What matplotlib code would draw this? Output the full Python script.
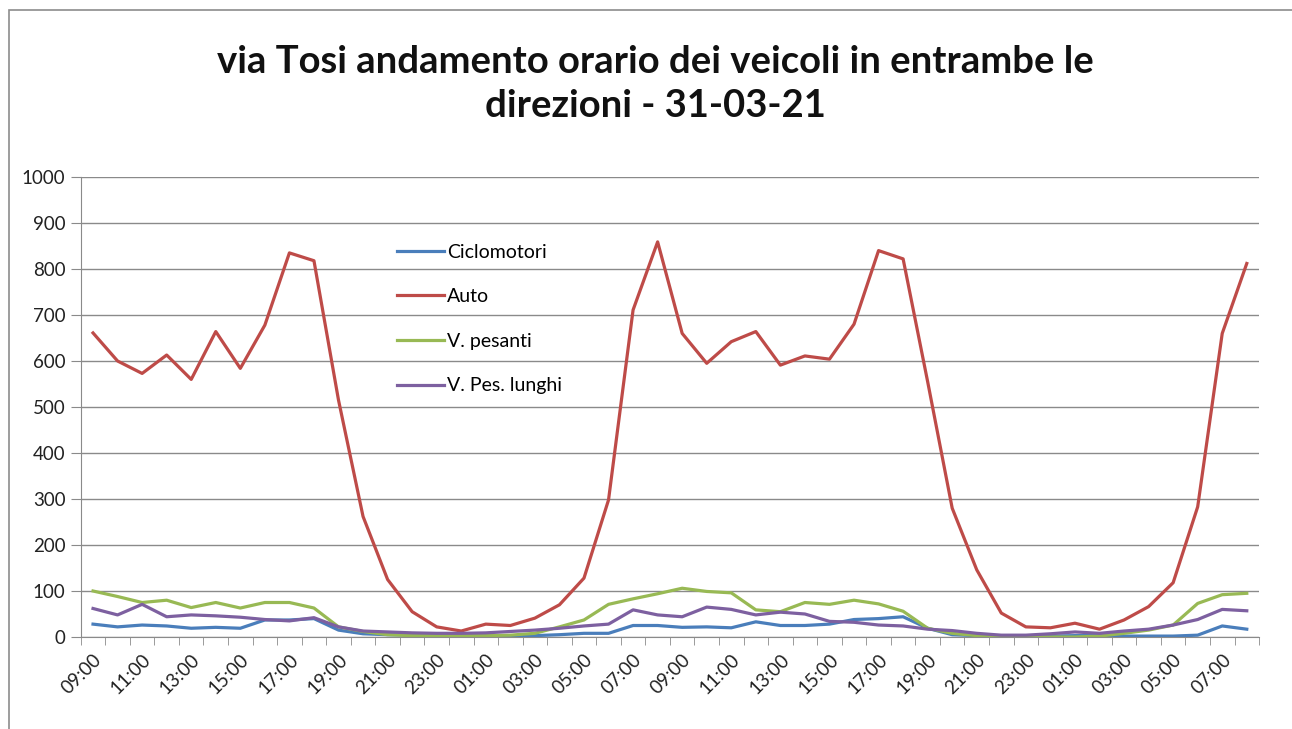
import matplotlib
matplotlib.use("Agg")
import matplotlib.pyplot as plt
from matplotlib.patches import Rectangle

# hourly counts, 09:00 of 31-03 to 08:00 two days later
hours = ["09:00", "10:00", "11:00", "12:00", "13:00", "14:00", "15:00", "16:00",
         "17:00", "18:00", "19:00", "20:00", "21:00", "22:00", "23:00", "00:00",
         "01:00", "02:00", "03:00", "04:00", "05:00", "06:00", "07:00", "08:00",
         "09:00", "10:00", "11:00", "12:00", "13:00", "14:00", "15:00", "16:00",
         "17:00", "18:00", "19:00", "20:00", "21:00", "22:00", "23:00", "00:00",
         "01:00", "02:00", "03:00", "04:00", "05:00", "06:00", "07:00", "08:00"]

ciclomotori = [28, 22, 26, 24, 19, 21, 19, 37, 37, 40, 15, 7, 5, 4, 4, 4,
               3, 3, 3, 5, 8, 8, 25, 25, 21, 22, 20, 33, 25, 25, 28, 38,
               40, 44, 19, 5, 3, 2, 2, 2, 3, 3, 2, 2, 2, 4, 24, 17]
auto = [661, 600, 573, 613, 560, 664, 584, 678, 835, 818, 515, 262, 125, 55, 22, 13,
        28, 25, 41, 70, 128, 298, 711, 859, 660, 595, 642, 664, 591, 611, 604, 680,
        840, 822, 555, 280, 146, 52, 22, 20, 30, 17, 37, 66, 118, 283, 660, 812]
pesanti = [100, 88, 75, 80, 64, 75, 63, 75, 75, 63, 22, 12, 5, 3, 3, 3,
           3, 4, 8, 22, 37, 71, 83, 94, 106, 99, 96, 59, 55, 75, 71, 80,
           72, 56, 19, 8, 3, 2, 1, 0, 0, 2, 8, 15, 26, 73, 92, 95]
pes_lunghi = [62, 48, 71, 44, 48, 46, 43, 38, 35, 42, 22, 13, 11, 9, 8, 8,
              9, 12, 15, 19, 24, 28, 59, 48, 44, 65, 60, 48, 54, 50, 34, 32,
              26, 24, 17, 14, 8, 4, 4, 7, 11, 8, 13, 17, 26, 38, 60, 57]

series = [("Ciclomotori", ciclomotori, "#4A7EBB"),
          ("Auto", auto, "#BE4B48"),
          ("V. pesanti", pesanti, "#98B954"),
          ("V. Pes. lunghi", pes_lunghi, "#7D60A0")]

plt.rcParams['font.family'] = ['Lato', 'DejaVu Sans']

fig = plt.figure(figsize=(12.92, 7.29), dpi=100)
fig.patches.append(Rectangle((9 / 1292, -0.1), 1.2, 1.1 - 10 / 729, transform=fig.transFigure,
                             fill=False, edgecolor="#8c8c8c", linewidth=1.2))

ax = fig.add_axes([0.0625, 0.1262, 0.912, 0.6310])
x = list(range(len(hours)))
for name, vals, col in series:
    ax.plot(x, vals, color=col, linewidth=2.3, label=name)

ax.set_xlim(-0.5, len(hours) - 0.5)
ax.set_ylim(0, 1000)
ax.set_yticks(range(0, 1001, 100))
ax.yaxis.grid(True, color="#8a8a8a", linewidth=1.0)
ax.set_axisbelow(True)

ax.set_xticks(x[::2])
ax.set_xticklabels(hours[::2], rotation=45, ha="right", rotation_mode="anchor")
ax.set_xticks([i - 0.5 for i in range(len(hours) + 1)], minor=True)
ax.tick_params(axis="x", which="major", length=0, pad=10, labelsize=13.5, labelcolor="#222222")
ax.tick_params(axis="x", which="minor", length=6, color="#8a8a8a")
ax.tick_params(axis="y", length=7, color="#8a8a8a", labelsize=13.5, labelcolor="#222222", pad=4)

for side in ["top", "right"]:
    ax.spines[side].set_visible(False)
for side in ["left", "bottom"]:
    ax.spines[side].set_color("#8a8a8a")

ax.legend(loc="upper left", bbox_to_anchor=(0.262, 0.872), frameon=False, fontsize=14,
          handlelength=2.4, handletextpad=0.15, labelspacing=1.42, borderaxespad=0)

fig.text(0.507, 0.915, "via Tosi andamento orario dei veicoli in entrambe le",
         ha="center", va="center", fontsize=27.5, fontweight="bold", color="#111111")
fig.text(0.507, 0.855, "direzioni - 31-03-21",
         ha="center", va="center", fontsize=27.5, fontweight="bold", color="#111111")

fig.savefig("out.png", dpi=100)
